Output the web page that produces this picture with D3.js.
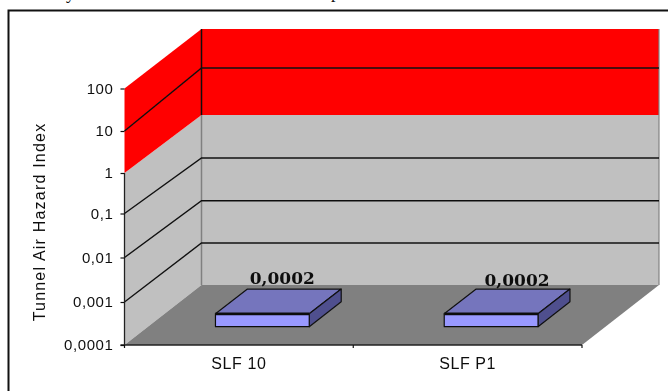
<!DOCTYPE html>
<html>
<head>
<meta charset="utf-8">
<script src="https://cdnjs.cloudflare.com/ajax/libs/d3/7.8.5/d3.min.js"></script>
<style>
html, body { margin: 0; padding: 0; background: #fff; overflow: hidden; }
text { fill: #111; }
</style>
</head>
<body>
<div id="chart"></div>
<script>
const categories = ['SLF 10', 'SLF P1'];
const barValues = [0.0002, 0.0002];
const barLabels = ['0,0002', '0,0002'];
const tickValues = [0.0001, 0.001, 0.01, 0.1, 1, 10, 100];
const tickLabels = ['0,0001', '0,001', '0,01', '0,1', '1', '10', '100'];
const hazardFrom = 1;
const hazardTo = 100;
const floorValue = 0.0001;

const width = 668, height = 391;

const svg = d3.select('#chart').append('svg')
    .attr('width', width)
    .attr('height', height);

const soft = svg.append('defs').append('filter').attr('id', 'soft');
soft.append('feGaussianBlur').attr('stdDeviation', 0.45);
const softer = svg.select('defs').append('filter').attr('id', 'softer');
softer.append('feGaussianBlur').attr('stdDeviation', 0.6);

// bottoms of the line of text cropped off above the chart
svg.append('text').attr('x', 66).attr('y', -1).attr('font-family', '"Liberation Serif", serif').attr('font-size', 18).text('y');
svg.append('text').attr('x', 331).attr('y', -2).attr('font-family', '"Liberation Serif", serif').attr('font-size', 18).text('p');

// frame runs off the right and bottom of the picture
svg.append('path')
    .attr('d', 'M8.5,' + height + 'V10.4H' + width)
    .attr('fill', 'none').attr('stroke', '#111').attr('stroke-width', 2);

const x = d3.scaleBand().domain(categories).range([124.5, 582]);
// the decades are not quite even in the picture, front edge and back wall differ
const y = d3.scaleLog().domain(tickValues).range([345, 302, 257.5, 213.5, 173, 131, 88.5]);
const yBack = d3.scaleLog().domain(tickValues).range([285, 243, 200.7, 158, 115, 68, 29]);
const depthX = d3.scaleLinear().domain([0, 1]).range([0, 77]);

// 3d look: front plane position pushed back by a depth of 0..1
const px = (xv, z) => xv + depthX(z);
const py = (v, z) => y(v) + (yBack(v) - y(v)) * z;
const pt = (xv, v, z) => [px(xv, z), py(v, z)];
const poly = pts => 'M' + pts.map(p => p.join(',')).join('L') + 'Z';

const left = x.range()[0], right = x.range()[1];
const plot = svg.append('g').attr('filter', 'url(#soft)');

// back wall
plot.append('path')
    .attr('d', poly([pt(left, hazardFrom, 1), pt(right, hazardFrom, 1), pt(right, floorValue, 1), pt(left, floorValue, 1)]))
    .attr('fill', '#c0c0c0');
plot.append('path')
    .attr('d', poly([pt(left, hazardTo, 1), pt(right, hazardTo, 1), pt(right, hazardFrom, 1), pt(left, hazardFrom, 1)]))
    .attr('fill', '#ff0000');

// side wall
plot.append('path')
    .attr('d', poly([pt(left, hazardFrom, 0), pt(left, hazardFrom, 1), pt(left, floorValue, 1), pt(left, floorValue, 0)]))
    .attr('fill', '#c0c0c0');
plot.append('path')
    .attr('d', poly([pt(left, hazardTo, 0), pt(left, hazardTo, 1), pt(left, hazardFrom, 1), pt(left, hazardFrom, 0)]))
    .attr('fill', '#ff0000');

// floor
plot.append('path')
    .attr('d', poly([pt(left, floorValue, 0), pt(left, floorValue, 1), pt(right, floorValue, 1), pt(right, floorValue, 0)]))
    .attr('fill', '#808080');

// wall edges
plot.append('line')
    .attr('x1', px(left, 1)).attr('x2', px(left, 1))
    .attr('y1', py(hazardFrom, 1)).attr('y2', py(floorValue, 1))
    .attr('stroke', '#808080').attr('stroke-width', 1.5);
plot.append('line')
    .attr('x1', px(left, 1)).attr('x2', px(left, 1))
    .attr('y1', py(hazardTo, 1)).attr('y2', py(hazardFrom, 1))
    .attr('stroke', '#111').attr('stroke-width', 1.5);
plot.append('line')
    .attr('x1', px(right, 1)).attr('x2', px(right, 1))
    .attr('y1', py(hazardTo, 1)).attr('y2', py(floorValue, 1))
    .attr('stroke', '#808080').attr('stroke-width', 1.2);

// gridlines, skipping the red/grey border and the top and floor
const gridValues = tickValues.filter(v => v !== floorValue && v !== hazardFrom && v !== hazardTo);
const grid = plot.append('g');
gridValues.forEach(v => {
    grid.append('path')
        .attr('d', 'M' + pt(left, v, 0) + 'L' + pt(left, v, 1) + 'L' + pt(right, v, 1))
        .attr('fill', 'none').attr('stroke', '#111').attr('stroke-width', 1.4);
});

// bars
const barZ0 = 0.305, barZ1 = 0.72;
const barW = x.bandwidth() * 0.41;
// the two value labels do not sit at the same place over their bars
const labelDx = [-12, -6], labelDy = [-5, -3.5];
categories.forEach((c, i) => {
    const x0 = x(c) + x.bandwidth() / 2 - barW / 2, x1 = x0 + barW;
    const v = barValues[i];
    const g = plot.append('g').attr('stroke', '#111').attr('stroke-width', 1.2).attr('stroke-linejoin', 'round');
    g.append('path')
        .attr('d', poly([pt(x0, v, barZ0), pt(x0, v, barZ1), pt(x1, v, barZ1), pt(x1, v, barZ0)]))
        .attr('fill', '#7575bd');
    g.append('path')
        .attr('d', poly([pt(x1, v, barZ0), pt(x1, v, barZ1), pt(x1, floorValue, barZ1), pt(x1, floorValue, barZ0)]))
        .attr('fill', '#4f4f8e');
    g.append('path')
        .attr('d', poly([pt(x0, v, barZ0), pt(x1, v, barZ0), pt(x1, floorValue, barZ0), pt(x0, floorValue, barZ0)]))
        .attr('fill', '#9999ff');
    g.append('line')
        .attr('x1', px(x0, barZ0)).attr('x2', px(x1, barZ0))
        .attr('y1', py(v, barZ0)).attr('y2', py(v, barZ0))
        .attr('stroke-width', 2.6);

    plot.append('text')
        .attr('x', px(x0 + barW / 2, barZ1) + labelDx[i])
        .attr('y', py(v, barZ1) + labelDy[i])
        .attr('text-anchor', 'middle')
        .attr('font-family', '"DejaVu Serif", serif')
        .attr('font-weight', 'bold')
        .attr('font-size', 17)
        .text(barLabels[i]);
});

// front axes
plot.append('line')
    .attr('x1', left).attr('x2', left)
    .attr('y1', y(hazardFrom)).attr('y2', y(floorValue))
    .attr('stroke', '#222').attr('stroke-width', 1.3);
plot.append('line')
    .attr('x1', left - 4).attr('x2', right)
    .attr('y1', y(floorValue)).attr('y2', y(floorValue))
    .attr('stroke', '#222').attr('stroke-width', 1.6);

const yAxis = d3.axisLeft(y).tickValues(tickValues)
    .tickFormat((d, i) => tickLabels[i]).tickSize(4).tickPadding(7);
const gy = svg.append('g').attr('transform', 'translate(' + left + ',0)').attr('filter', 'url(#softer)').call(yAxis);
gy.select('.domain').remove();
gy.selectAll('line').attr('stroke', '#111').attr('stroke-width', 1.2);
gy.selectAll('text').attr('font-family', '"Liberation Sans", sans-serif').attr('font-size', 15).attr('letter-spacing', 0.6).attr('fill', '#111');

const xAxis = d3.axisBottom(x).tickSize(0).tickPadding(13);
const gx = svg.append('g').attr('transform', 'translate(0,' + y(floorValue) + ')').attr('filter', 'url(#softer)').call(xAxis);
gx.select('.domain').remove();
gx.selectAll('text').attr('font-family', '"Liberation Sans", sans-serif').attr('font-size', 16).attr('letter-spacing', 0.6).attr('fill', '#111');
gx.selectAll('.edge').data([left, (left + right) / 2, right]).enter().append('line')
    .attr('x1', d => d).attr('x2', d => d).attr('y1', 0).attr('y2', 3)
    .attr('stroke', '#111').attr('stroke-width', 1.2);

svg.append('text')
    .attr('transform', 'translate(45,222) rotate(-90)')
    .attr('text-anchor', 'middle')
    .attr('font-family', '"Liberation Sans", sans-serif')
    .attr('font-size', 16)
    .attr('letter-spacing', 1.2)
    .attr('filter', 'url(#softer)')
    .text('Tunnel Air Hazard Index');
</script>
</body>
</html>
